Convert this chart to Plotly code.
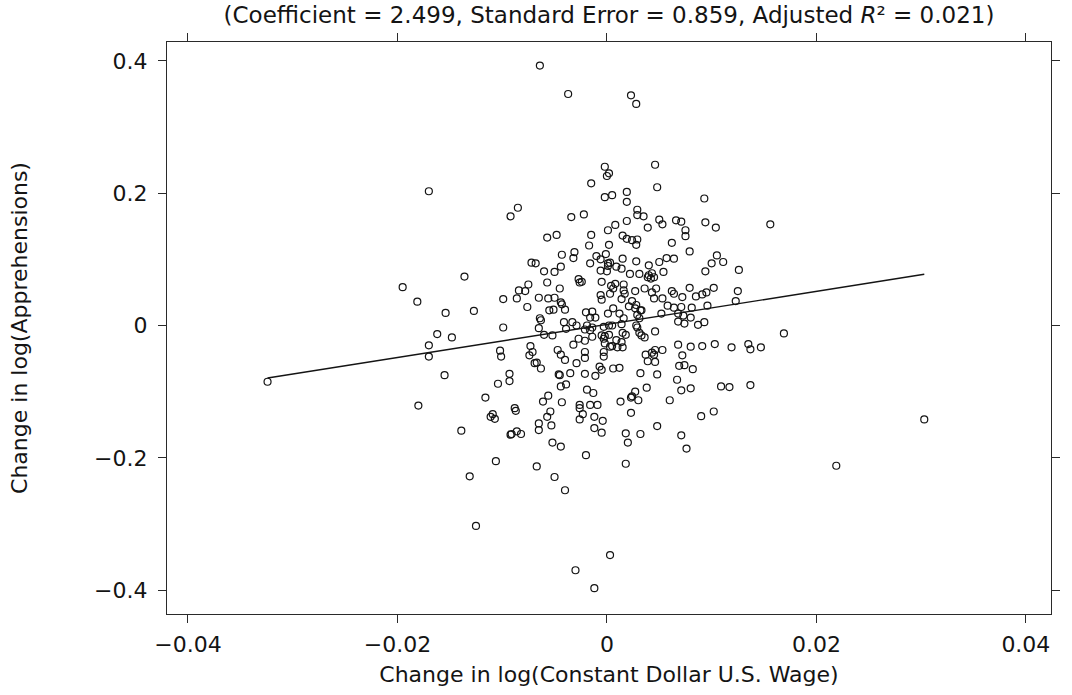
import plotly.graph_objects as go

# Change in log(Constant Dollar U.S. Wage)
wage_change = [
    -0.0064, -0.0037, 0.0023, 0.0028, -0.0015, -0.0170, -0.0085, -0.0092, -0.0034, -0.0022,
    -0.0048, -0.0057, -0.0015, -0.0002, 0.0002, 0.0000, 0.0046, 0.0048, 0.0019, -0.0002,
    0.0005, 0.0093, 0.0019, 0.0029, 0.0029, 0.0035, 0.0019, 0.0050, 0.0053, 0.0066,
    0.0071, 0.0094, 0.0104, 0.0156, 0.0039, 0.0008, 0.0001, 0.0075, 0.0075, 0.0015,
    0.0019, 0.0024, 0.0029, 0.0028, -0.0017, 0.0002, 0.0062, 0.0079, -0.0043, -0.0031,
    -0.0032, -0.0016, -0.0072, -0.0068, -0.0060, -0.0050, -0.0044, -0.0136, -0.0195, -0.0057,
    -0.0027, -0.0026, -0.0024, -0.0075, -0.0084, -0.0078, -0.0045, -0.0181, -0.0099, -0.0086,
    -0.0065, -0.0056, -0.0050, -0.0044, -0.0043, -0.0076, -0.0055, -0.0051, -0.0040, -0.0154,
    -0.0127, -0.0063, -0.0064, -0.0020, -0.0014, -0.0011, -0.0016, -0.0099, -0.0065, -0.0041,
    -0.0033, -0.0039, -0.0029, -0.0021, -0.0016, -0.0014, -0.0019, -0.0060, -0.0052, -0.0162,
    -0.0148, -0.0014, -0.0027, -0.0021, -0.0032, -0.0170, -0.0170, -0.0102, -0.0101, -0.0073,
    -0.0071, -0.0074, -0.0047, -0.0044, -0.0040, -0.0021, -0.0021, -0.0029, -0.0069, -0.0067,
    -0.0063, -0.0155, -0.0093, -0.0093, -0.0104, -0.0046, -0.0045, -0.0035, -0.0021, -0.0011,
    -0.0044, -0.0039, -0.0019, -0.0013, -0.0116, -0.0061, -0.0056, -0.0043, -0.0026, -0.0016,
    -0.0009, -0.0180, -0.0109, -0.0111, -0.0107, -0.0088, -0.0087, -0.0054, -0.0057, -0.0053,
    -0.0026, -0.0023, -0.0026, -0.0012, -0.0012, -0.0139, -0.0092, -0.0091, -0.0086, -0.0082,
    -0.0065, -0.0065, -0.0052, -0.0044, -0.0020, -0.0106, -0.0067, -0.0131, -0.0050, -0.0040,
    -0.0125, -0.0030, -0.0012, -0.0004, -0.0005, 0.0023, 0.0018, 0.0020, 0.0032, 0.0048,
    0.0071, 0.0076, 0.0090, 0.0102, 0.0018, 0.0003, -0.0324, 0.0303, 0.0219,
    -0.0010, -0.0006, -0.0001, 0.0001, 0.0015, 0.0028, 0.0040, 0.0050, 0.0057, 0.0064,
    0.0105, 0.0100, 0.0111, 0.0094, 0.0126, 0.0009, 0.0014, -0.0006, 0.0000, 0.0001,
    0.0003, 0.0022, 0.0031, 0.0039, 0.0040, 0.0043, 0.0045, 0.0042, 0.0054, -0.0005,
    0.0004, 0.0008, 0.0006, 0.0016, 0.0027, 0.0036, 0.0047, 0.0043, 0.0017, 0.0016,
    0.0062, 0.0064, 0.0079, 0.0072, 0.0085, 0.0091, 0.0095, 0.0102, 0.0125, 0.0123,
    -0.0006, -0.0005, 0.0003, 0.0014, 0.0024, 0.0021, 0.0045, 0.0053, 0.0058, 0.0006,
    0.0028, 0.0027, 0.0032, 0.0033, 0.0096, 0.0001, 0.0012, 0.0016, 0.0029, 0.0031,
    0.0052, 0.0064, 0.0071, 0.0081, 0.0068, 0.0068, 0.0073, 0.0074, 0.0080, 0.0087,
    0.0093, -0.0003, 0.0002, 0.0005, 0.0014, 0.0028, 0.0029, 0.0015, 0.0018, 0.0031,
    0.0033, 0.0036, 0.0046, -0.0005, -0.0002, 0.0002, -0.0003, 0.0009, -0.0002, 0.0003,
    0.0005, 0.0010, 0.0015, 0.0014, -0.0003, -0.0003, 0.0068, 0.0080, 0.0091, 0.0103,
    0.0119, 0.0135, 0.0137, 0.0147, 0.0169, 0.0037, 0.0043, 0.0045, 0.0046, 0.0053,
    0.0039, 0.0046, 0.0072, 0.0069, 0.0074, 0.0082, -0.0007, -0.0005, 0.0006, 0.0012,
    0.0032, 0.0048, 0.0067, 0.0038, 0.0071, 0.0080, 0.0109, 0.0117, 0.0137, 0.0027,
    0.0024, 0.0023, 0.0030, 0.0013, 0.0060,
]

# Change in log(Apprehensions)
apprehension_change = [
    0.393, 0.350, 0.348, 0.335, 0.215, 0.203, 0.178, 0.165, 0.164, 0.168,
    0.137, 0.133, 0.137, 0.240, 0.230, 0.226, 0.243, 0.209, 0.202, 0.194,
    0.197, 0.192, 0.187, 0.175, 0.167, 0.165, 0.158, 0.160, 0.153, 0.159,
    0.157, 0.156, 0.148, 0.153, 0.148, 0.152, 0.144, 0.144, 0.135, 0.136,
    0.131, 0.129, 0.130, 0.122, 0.121, 0.122, 0.125, 0.112, 0.107, 0.111,
    0.102, 0.094, 0.095, 0.094, 0.082, 0.081, 0.089, 0.074, 0.058, 0.065,
    0.070, 0.065, 0.066, 0.062, 0.053, 0.052, 0.056, 0.036, 0.040, 0.041,
    0.042, 0.041, 0.042, 0.035, 0.032, 0.028, 0.023, 0.024, 0.024, 0.019,
    0.022, 0.008, 0.011, 0.020, 0.021, 0.012, 0.012, -0.003, -0.004, 0.005,
    0.005, -0.005, 0.000, -0.006, -0.007, -0.003, 0.000, -0.014, -0.015, -0.013,
    -0.018, -0.017, -0.020, -0.023, -0.029, -0.030, -0.047, -0.038, -0.047, -0.031,
    -0.040, -0.045, -0.037, -0.044, -0.052, -0.040, -0.049, -0.057, -0.057, -0.056,
    -0.065, -0.075, -0.073, -0.084, -0.088, -0.074, -0.075, -0.072, -0.073, -0.076,
    -0.092, -0.089, -0.097, -0.102, -0.109, -0.115, -0.106, -0.116, -0.120, -0.120,
    -0.120, -0.121, -0.134, -0.138, -0.141, -0.125, -0.129, -0.130, -0.138, -0.151,
    -0.125, -0.134, -0.142, -0.138, -0.155, -0.159, -0.165, -0.164, -0.160, -0.164,
    -0.148, -0.158, -0.177, -0.183, -0.196, -0.205, -0.213, -0.228, -0.229, -0.249,
    -0.303, -0.370, -0.397, -0.144, -0.162, -0.132, -0.163, -0.177, -0.164, -0.152,
    -0.166, -0.186, -0.137, -0.130, -0.209, -0.347, -0.085, -0.142, -0.212,
    0.105, 0.100, 0.108, 0.094, 0.101, 0.097, 0.091, 0.096, 0.102, 0.101,
    0.106, 0.094, 0.096, 0.082, 0.084, 0.089, 0.086, 0.083, 0.082, 0.090,
    0.095, 0.078, 0.078, 0.073, 0.076, 0.079, 0.073, 0.071, 0.081, 0.066,
    0.060, 0.063, 0.056, 0.062, 0.052, 0.056, 0.056, 0.050, 0.048, 0.053,
    0.052, 0.048, 0.057, 0.043, 0.044, 0.047, 0.050, 0.057, 0.052, 0.037,
    0.046, 0.039, 0.048, 0.040, 0.037, 0.029, 0.041, 0.041, 0.030, 0.026,
    0.031, 0.026, 0.023, 0.023, 0.030, 0.018, 0.018, 0.011, 0.016, 0.011,
    0.018, 0.027, 0.028, 0.027, 0.018, 0.006, 0.015, 0.003, 0.012, 0.001,
    0.005, -0.002, 0.000, 0.000, 0.002, 0.000, -0.003, -0.011, -0.014, -0.011,
    -0.015, -0.018, -0.009, -0.015, -0.016, -0.014, -0.020, -0.022, -0.027, -0.032,
    -0.031, -0.033, -0.033, -0.025, -0.040, -0.047, -0.029, -0.032, -0.031, -0.028,
    -0.033, -0.028, -0.036, -0.033, -0.012, -0.044, -0.041, -0.044, -0.037, -0.037,
    -0.054, -0.055, -0.045, -0.061, -0.060, -0.066, -0.062, -0.067, -0.065, -0.064,
    -0.072, -0.074, -0.082, -0.094, -0.098, -0.095, -0.092, -0.093, -0.090, -0.100,
    -0.107, -0.109, -0.113, -0.115, -0.113,
]

# Fitted regression (coefficient from the title, intercept)
coefficient = 2.499
intercept = 0.0017

title_text = ("(Coefficient = 2.499, Standard Error = 0.859, "
              "Adjusted <i>R</i>\u00b2 = 0.021)")
x_title = "Change in log(Constant Dollar U.S. Wage)"
y_title = "Change in log(Apprehensions)"
x_ticks = [-0.04, -0.02, 0, 0.02, 0.04]
x_tick_labels = ["\u22120.04", "\u22120.02", "0", "0.02", "0.04"]
y_ticks = [-0.4, -0.2, 0, 0.2, 0.4]
y_tick_labels = ["\u22120.4", "\u22120.2", "0", "0.2", "0.4"]

x_min, x_max = min(wage_change), max(wage_change)
fit_x = [x_min, x_max]
fit_y = [intercept + coefficient * v for v in fit_x]

FONT = "DejaVu Sans, Verdana, sans-serif"
INK = "#141414"

fig = go.Figure()
fig.add_trace(go.Scatter(
    x=wage_change, y=apprehension_change, mode="markers",
    marker=dict(symbol="circle-open", size=7, color=INK,
                line=dict(width=1.2, color=INK)),
    showlegend=False, hoverinfo="x+y",
))
fig.add_trace(go.Scatter(
    x=fit_x, y=fit_y, mode="lines",
    line=dict(color=INK, width=1.4),
    showlegend=False,
))

axis_common = dict(
    showline=True, linecolor="#2a2a2a", linewidth=1.2,
    mirror="ticks", ticks="outside", ticklen=8, tickwidth=1, tickcolor="#2a2a2a",
    showgrid=False, zeroline=False,
    tickfont=dict(family=FONT, size=22, color=INK),
)

fig.update_layout(
    width=1072, height=695,
    margin=dict(l=167, r=15, t=42, b=78),
    paper_bgcolor="white", plot_bgcolor="white",
    font=dict(family=FONT, color=INK),
    title=dict(text=title_text, x=0.5, xref="paper", y=1 - 15 / 695,
               yref="container", yanchor="middle", xanchor="center",
               font=dict(family=FONT, size=23, color=INK)),
    xaxis=dict(range=[-0.0420, 0.0424], tickvals=x_ticks, ticktext=x_tick_labels,
               ticklabelstandoff=2,
               title=dict(text=x_title, font=dict(family=FONT, size=22, color=INK),
                          standoff=11),
               **axis_common),
    yaxis=dict(range=[-0.4361, 0.4286], tickvals=y_ticks, ticktext=y_tick_labels,
               ticklabelstandoff=6,
               title=dict(text=y_title, font=dict(family=FONT, size=22, color=INK),
                          standoff=60),
               **axis_common),
)

fig.write_html("out.html")
